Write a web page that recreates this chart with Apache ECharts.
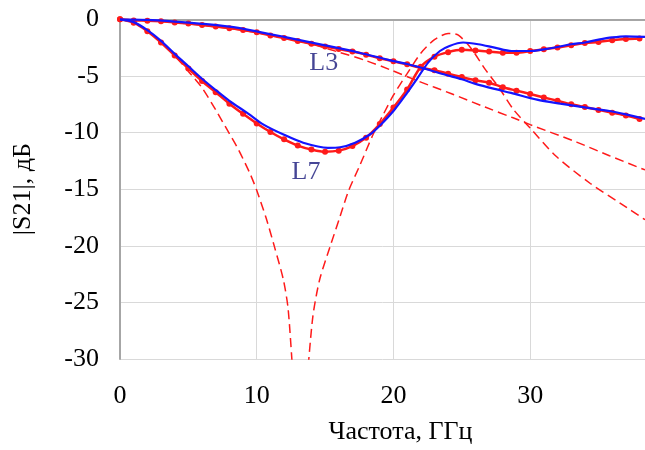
<!DOCTYPE html>
<html>
<head>
<meta charset="utf-8">
<script src="https://cdn.jsdelivr.net/npm/echarts@6/dist/echarts.min.js"></script>
<style>html,body{margin:0;padding:0;background:#fff;}#c{width:645px;height:450px;}</style>
</head>
<body>
<div id="c"></div>
<script>
// Frequencies (GHz) of the measured points (markers)
const freqMeas = [0,1,2,3,4,5,6,7,8,9,10,11,12,13,14,15,16,17,18,19,20,21,22,23,24,25,26,27,28,29,30,31,32,33,34,35,36,37,38];
// L3, red with markers
const l3Meas = [0,-0.1,-0.12,-0.18,-0.28,-0.38,-0.5,-0.63,-0.78,-0.95,-1.15,-1.42,-1.65,-1.92,-2.15,-2.4,-2.62,-2.85,-3.12,-3.45,-3.7,-3.98,-4.28,-4.5,-4.8,-5.1,-5.38,-5.6,-6.0,-6.3,-6.6,-6.9,-7.2,-7.5,-7.75,-8.0,-8.25,-8.5,-8.8];
// L7, red with markers
const l7Meas = [0,-0.3,-1.05,-2.05,-3.2,-4.35,-5.45,-6.45,-7.45,-8.35,-9.2,-9.95,-10.6,-11.15,-11.5,-11.7,-11.6,-11.2,-10.45,-9.25,-7.8,-6.2,-4.2,-3.3,-2.9,-2.7,-2.75,-2.85,-2.95,-2.95,-2.8,-2.65,-2.5,-2.3,-2.1,-2.0,-1.85,-1.75,-1.7];
// L3, blue solid [GHz, dB]
const l3Blue = [[0,0],[2,-0.05],[4,-0.2],[6,-0.4],[8,-0.65],[9.5,-0.95],[12,-1.55],[15,-2.3],[17.5,-2.95],[19.7,-3.6],[21,-3.95],[22.3,-4.37],[23.8,-4.9],[25,-5.3],[26,-5.7],[27.4,-6.15],[28.6,-6.5],[30.5,-7.1],[32.2,-7.45],[34.1,-7.8],[35.8,-8.1],[37,-8.4],[38.4,-8.8]];
// L7, blue solid [GHz, dB]
const l7Blue = [[0,0],[1,-0.25],[2,-0.95],[3,-1.9],[4,-3.05],[5,-4.15],[6,-5.25],[7,-6.25],[8,-7.2],[9.4,-8.35],[10.5,-9.3],[12,-10.2],[13.4,-10.9],[15.2,-11.35],[16.1,-11.3],[17.2,-10.9],[18.3,-10.15],[19,-9.4],[20,-8.1],[21,-6.5],[21.7,-5.3],[22.55,-3.8],[23.4,-2.8],[24.1,-2.35],[25.1,-2.05],[26.2,-2.2],[27.4,-2.5],[28.65,-2.8],[30,-2.8],[31,-2.65],[32,-2.45],[33,-2.2],[34,-2.05],[35,-1.8],[36,-1.6],[37,-1.5],[38.4,-1.55]];
// L3, red dashed [GHz, dB]
const l3Dash = [[0,0],[2,-0.1],[4,-0.28],[6,-0.52],[8,-0.82],[10,-1.18],[12,-1.65],[14,-2.2],[16,-2.9],[18,-3.65],[19.75,-4.45],[21.8,-5.45],[24.2,-6.55],[26.7,-7.75],[28.75,-8.7],[30,-9.3],[33.4,-10.85],[35.8,-12.05],[38.4,-13.3]];
// L7, red dashed [GHz, dB] (notch goes below the -30 dB axis limit)
const l7Dash = [[0,0],[1,-0.3],[2,-1.0],[3,-2.0],[4,-3.2],[5,-4.6],[6,-6.05],[7,-8.0],[8,-10.1],[8.66,-11.5],[9.5,-13.6],[10,-15.1],[10.7,-17.6],[11.3,-20.1],[11.95,-23.0],[12.3,-25.6],[12.75,-33],[13.2,-38],[13.6,-33],[14.1,-26.3],[14.6,-23.0],[15.36,-20.1],[16.1,-17.4],[16.7,-15.2],[17.56,-12.85],[18.5,-10.2],[19.26,-8.4],[20,-6.7],[21,-4.8],[22,-3.0],[23,-1.8],[24,-1.25],[24.75,-1.4],[25.7,-2.6],[26.7,-4.4],[27.7,-6.0],[28.8,-8.0],[30,-9.6],[31.9,-12.1],[34.4,-14.5],[36.6,-16.25],[38.4,-17.7]];
// Curve labels [text, GHz, dB]
const curveLabels = [['L3', 14.9, -3.9], ['L7', 13.6, -13.5]];

const xMin = 0, xMax = 38.4, xStep = 10;
const yMin = -30, yMax = 0, yStep = 5;

const font = 'Liberation Serif, Times New Roman, serif';
const red = '#ff1a1a', blue = '#1414ff', navy = '#16167a';

const chart = echarts.init(document.getElementById('c'), null, {renderer: 'canvas'});
const zip = (xs, ys) => xs.map((x, i) => [x, ys[i]]);

chart.setOption({
  animation: false,
  backgroundColor: '#fff',
  grid: {left: 120, right: 0, top: 19.3, bottom: 90.7, containLabel: false},
  xAxis: [{
    type: 'value', min: xMin, max: xMax, interval: xStep,
    name: 'Частота, ГГц', nameLocation: 'middle', nameGap: 60,
    nameTextStyle: {fontFamily: font, fontSize: 26, color: '#000', padding: [0, 0, 0, 36]},
    axisLine: {show: true, lineStyle: {color: '#a6a6a6', width: 2}},
    axisTick: {show: false},
    axisLabel: {fontFamily: font, fontSize: 26, color: '#000', margin: 24, showMaxLabel: false},
    splitLine: {show: true, lineStyle: {color: '#d9d9d9', width: 1}}
  }, {
    type: 'value', position: 'top', min: xMin, max: xMax, interval: xStep,
    axisLine: {show: true, lineStyle: {color: '#a6a6a6', width: 2}},
    axisTick: {show: false}, axisLabel: {show: false}, splitLine: {show: false}
  }],
  yAxis: {
    type: 'value', min: yMin, max: yMax, interval: yStep,
    name: '|S21|, дБ', nameLocation: 'middle', nameGap: 84, nameRotate: 90,
    nameTextStyle: {fontFamily: font, fontSize: 26, color: '#000'},
    axisLine: {show: true, lineStyle: {color: '#a6a6a6', width: 2}},
    axisTick: {show: false},
    axisLabel: {fontFamily: font, fontSize: 26, color: '#000', margin: 21, padding: [11, 0, 0, 0]},
    splitLine: {show: true, lineStyle: {color: '#d9d9d9', width: 1}}
  },
  series: [
    {type: 'line', name: 'L3 dashed', data: l3Dash, smooth: 0.3, showSymbol: false, z: 2,
     lineStyle: {color: red, width: 1.5, type: [9, 5]}},
    {type: 'line', name: 'L7 dashed', data: l7Dash, smooth: 0.25, showSymbol: false, z: 2,
     lineStyle: {color: red, width: 1.5, type: [9, 5]}},
    {type: 'line', name: 'L3 meas', data: zip(freqMeas, l3Meas), smooth: 0.3, z: 3,
     symbol: 'circle', symbolSize: 6, itemStyle: {color: red}, lineStyle: {color: red, width: 2.5}},
    {type: 'line', name: 'L7 meas', data: zip(freqMeas, l7Meas), smooth: 0.3, z: 3,
     symbol: 'circle', symbolSize: 6, itemStyle: {color: red}, lineStyle: {color: red, width: 2.5}},
    {type: 'line', name: 'L3 blue', data: l3Blue, smooth: 0.3, showSymbol: false, z: 4,
     lineStyle: {color: blue, width: 2.2}},
    {type: 'line', name: 'L7 blue', data: l7Blue, smooth: 0.3, showSymbol: false, z: 4,
     lineStyle: {color: blue, width: 2.2}},
    {type: 'scatter', name: 'labels', data: curveLabels.map(d => ({value: [d[1], d[2]], label: {formatter: d[0]}})),
     symbolSize: 0, z: 5, silent: true,
     label: {show: true, position: 'inside', fontFamily: font, fontSize: 26, color: navy}}
  ]
});
</script>
</body>
</html>
